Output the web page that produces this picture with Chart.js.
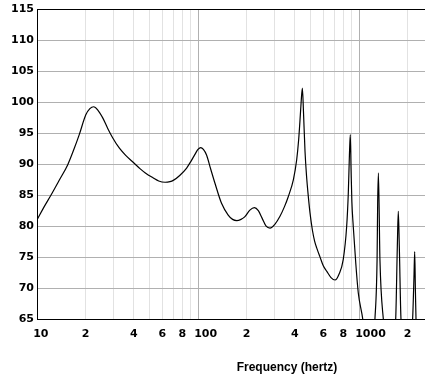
<!DOCTYPE html>
<html>
<head>
<meta charset="utf-8">
<script src="https://cdn.jsdelivr.net/npm/chart.js@4/dist/chart.umd.min.js"></script>
<style>
  body { margin: 0; background: #fff; }
  canvas { display: block; }
</style>
</head>
<body>
<canvas id="response" width="425" height="384"></canvas>
<script>
// frequency (Hz) and level
const freqs = [10, 11, 12.2, 13.8, 15.5, 17, 18.3, 20.1, 21.3, 22.5, 23.8, 25.6, 27.5, 29.5, 32.5, 35.7,
  40, 43.6, 47.1, 52.7, 57, 62.5, 67, 70.2, 77, 85, 90, 95.7, 100, 104, 108, 113, 120, 127.6,
  140, 154, 164, 174, 185, 195, 210, 224, 237, 250, 265, 280, 300, 323, 345, 364, 391, 410,
  422, 430, 437, 445, 452, 462, 472, 484, 496, 514, 530, 546, 573, 600, 631, 670, 710, 750, 798,
  838, 858, 872, 883, 893, 903, 921, 955, 990, 1055, 1130, 1200, 1256, 1295, 1306, 1320, 1349,
  1416, 1550, 1690, 1730, 1754, 1780, 1823, 2000, 2153, 2195, 2218, 2240, 2260, 2400, 2570];
const levels = [81.0, 83.0, 85.0, 87.5, 89.9, 92.5, 94.8, 98.0, 99.0, 99.3, 98.8, 97.5, 95.8, 94.3, 92.6, 91.4,
  90.2, 89.3, 88.6, 87.8, 87.3, 87.1, 87.2, 87.4, 88.2, 89.4, 90.4, 91.6, 92.4, 92.7, 92.4, 91.5, 89.2, 86.9,
  83.7, 81.8, 81.1, 80.9, 81.1, 81.5, 82.6, 83.0, 82.5, 81.3, 80.0, 79.7, 80.3, 81.6, 83.2, 84.8, 87.5, 90.7,
  94, 97.1, 100, 102.3, 98.5, 92.1, 88.2, 84.9, 82.2, 79.3, 77.6, 76.5, 75.0, 73.6, 72.7, 71.7, 71.3, 72.2, 74.6,
  79.9, 85.3, 91.5, 94.8, 89, 84, 80, 74, 69.2, 65, 58, 58, 65, 74.6, 83.7, 88.6, 74.6,
  65, 58, 65, 76.7, 82.4, 76.7, 65, 58, 65, 71.8, 75.9, 69.7, 65, 58, 58];

const xTickValues = [10, 20, 30, 40, 50, 60, 70, 80, 90, 100, 200, 300, 400, 500, 600, 700, 800, 900, 1000, 2000];
const xLabelValues = [10, 20, 40, 60, 80, 100, 200, 400, 600, 800, 1000, 2000];
const xLabels = ['10', '2', '4', '6', '8', '100', '2', '4', '6', '8', '1000', '2'];
const yTicks = [65, 70, 75, 80, 85, 90, 95, 100, 105, 110, 115];
const xTitle = 'Frequency (hertz)';

const labelFont = 'bold 11px "DejaVu Sans"';

// x labels sit with their first digit centred on the grid line, title off-centre
const freqLabels = {
  id: 'freqLabels',
  afterDraw(chart) {
    const ctx = chart.ctx;
    const x = chart.scales.x;
    ctx.save();
    ctx.fillStyle = '#000';
    ctx.font = labelFont;
    ctx.textBaseline = 'middle';
    ctx.textAlign = 'left';
    xLabelValues.forEach((v, i) => {
      const px = x.getPixelForValue(v);
      const w = ctx.measureText(xLabels[i][0]).width;
      ctx.fillText(xLabels[i], px - w / 2, 334.5);
    });
    ctx.font = 'bold 12px "Liberation Sans"';
    ctx.textAlign = 'center';
    ctx.fillText(xTitle, 287, 367.5);
    ctx.restore();
  }
};

new Chart(document.getElementById('response'), {
  type: 'line',
  data: {
    datasets: [{
      data: freqs.map((f, i) => ({ x: f, y: levels[i] })),
      borderColor: '#000',
      borderWidth: 1.2,
      pointRadius: 0,
      cubicInterpolationMode: 'monotone',
      fill: false
    }]
  },
  options: {
    responsive: false,
    animation: false,
    devicePixelRatio: 1,
    layout: { padding: { top: 9, right: 0, bottom: 0, left: 0 } },
    plugins: { legend: { display: false }, tooltip: { enabled: false } },
    scales: {
      x: {
        type: 'logarithmic',
        min: 10,
        max: 2570,
        afterBuildTicks: (scale) => { scale.ticks = xTickValues.map(v => ({ value: v })); },
        afterFit: (scale) => { scale.height = 65; },
        ticks: { display: false },
        grid: {
          drawTicks: false,
          color: (c) => (c.tick && (c.tick.value === 100 || c.tick.value === 1000)) ? '#b0b0b0' : '#e2e2e2'
        },
        border: { color: '#000', width: 1 }
      },
      y: {
        min: 65,
        max: 115,
        afterBuildTicks: (scale) => { scale.ticks = yTicks.map(v => ({ value: v })); },
        afterFit: (scale) => { scale.width = 37; },
        ticks: {
          color: '#000',
          padding: 3,
          font: { family: 'DejaVu Sans', size: 11, weight: 'bold' }
        },
        grid: {
          drawTicks: false,
          color: (c) => (c.tick && c.tick.value === 115) ? '#000' : '#b0b0b0'
        },
        border: { color: '#000', width: 1 }
      }
    }
  },
  plugins: [freqLabels]
});
</script>
</body>
</html>
